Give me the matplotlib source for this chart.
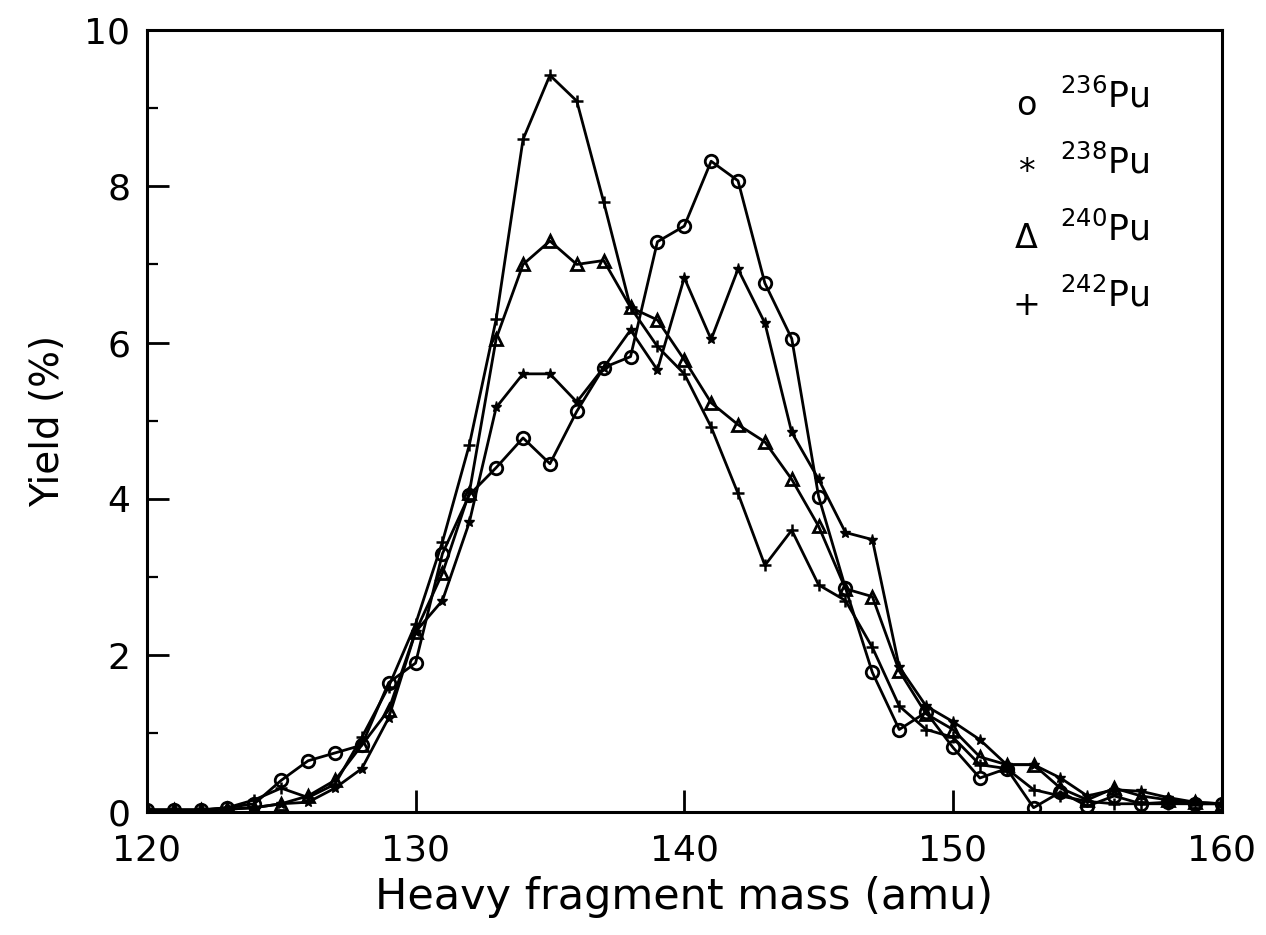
import numpy as np
from matplotlib import pyplot as plt

mass = np.arange(120, 161)

pu236 = [0.02, 0.02, 0.02, 0.05, 0.1, 0.4, 0.65, 0.75, 0.85, 1.65, 1.9,
         3.3, 4.05, 4.4, 4.78, 4.45, 5.12, 5.68, 5.82, 7.29, 7.49,
         8.32, 8.07, 6.76, 6.05, 4.03, 2.86, 1.78, 1.05, 1.27, 0.82,
         0.43, 0.55, 0.05, 0.25, 0.07, 0.2, 0.1, 0.12, 0.1, 0.1]
pu238 = [0.02, 0.02, 0.02, 0.03, 0.05, 0.1, 0.12, 0.3, 0.55, 1.2, 2.3,
         2.7, 3.7, 5.17, 5.6, 5.6, 5.24, 5.68, 6.16, 5.65, 6.83,
         6.04, 6.94, 6.25, 4.85, 4.25, 3.57, 3.48, 1.85, 1.35, 1.15,
         0.92, 0.6, 0.6, 0.43, 0.2, 0.28, 0.26, 0.18, 0.12, 0.1]
pu240 = [0.02, 0.02, 0.02, 0.03, 0.05, 0.1, 0.2, 0.4, 0.85, 1.3, 2.3,
         3.05, 4.08, 6.05, 7.0, 7.3, 7.0, 7.05, 6.45, 6.29, 5.78,
         5.23, 4.95, 4.73, 4.25, 3.65, 2.85, 2.75, 1.8, 1.25, 1.05,
         0.7, 0.6, 0.6, 0.3, 0.15, 0.3, 0.2, 0.15, 0.12, 0.1]
pu242 = [0.02, 0.02, 0.02, 0.05, 0.15, 0.3, 0.18, 0.35, 0.95, 1.6, 2.4,
         3.45, 4.69, 6.3, 8.6, 9.42, 9.09, 7.8, 6.45, 5.95, 5.6,
         4.92, 4.07, 3.15, 3.6, 2.9, 2.7, 2.1, 1.35, 1.05, 0.95,
         0.6, 0.55, 0.28, 0.2, 0.13, 0.1, 0.1, 0.1, 0.1, 0.1]

labels = [r'$^{236}$Pu', r'$^{238}$Pu', r'$^{240}$Pu', r'$^{242}$Pu']
legend_marks = ['o', '*', u'\u0394', '+']

fig = plt.figure(figsize=(12.66, 9.35), dpi=100)
ax = fig.add_axes([0.116, 0.132, 0.849, 0.836])

ax.plot(mass, pu236, color='k', lw=2, marker='o', ms=9, mfc='none', mew=2)
ax.plot(mass, pu238, color='k', lw=2, marker='*', ms=8, mew=1.0)
ax.plot(mass, pu240, color='k', lw=2, marker='^', ms=9, mfc='none', mew=2)
ax.plot(mass, pu242, color='k', lw=2, marker='+', ms=8, mew=1.8)

ax.set_xlim(120, 160)
ax.set_ylim(0, 10)
ax.set_xticks([120, 130, 140, 150, 160])
ax.set_yticks([0, 2, 4, 6, 8, 10])
ax.set_yticks([1, 3, 5, 7, 9], minor=True)
ax.tick_params(which='major', direction='in', length=16, width=2, labelsize=26)
ax.tick_params(axis='x', which='major', pad=16)
ax.tick_params(axis='y', which='major', pad=12)
ax.tick_params(which='minor', direction='in', length=8, width=1.6)
for s in ax.spines.values():
    s.set_linewidth(2.2)

ax.set_xlabel('Heavy fragment mass (amu)', fontsize=31, labelpad=6)
ax.set_ylabel('Yield (%)', fontsize=28, labelpad=12)

# legend written as glyph + label, like the original figure
for i, (m, lab) in enumerate(zip(legend_marks, labels)):
    yy = 0.915 - i * 0.085
    ax.text(0.818, yy - 0.012, m, transform=ax.transAxes, fontsize=24, ha='center', va='center')
    ax.text(0.85, yy, lab, transform=ax.transAxes, fontsize=25, ha='left', va='center')

plt.savefig('out.png', dpi=100)
